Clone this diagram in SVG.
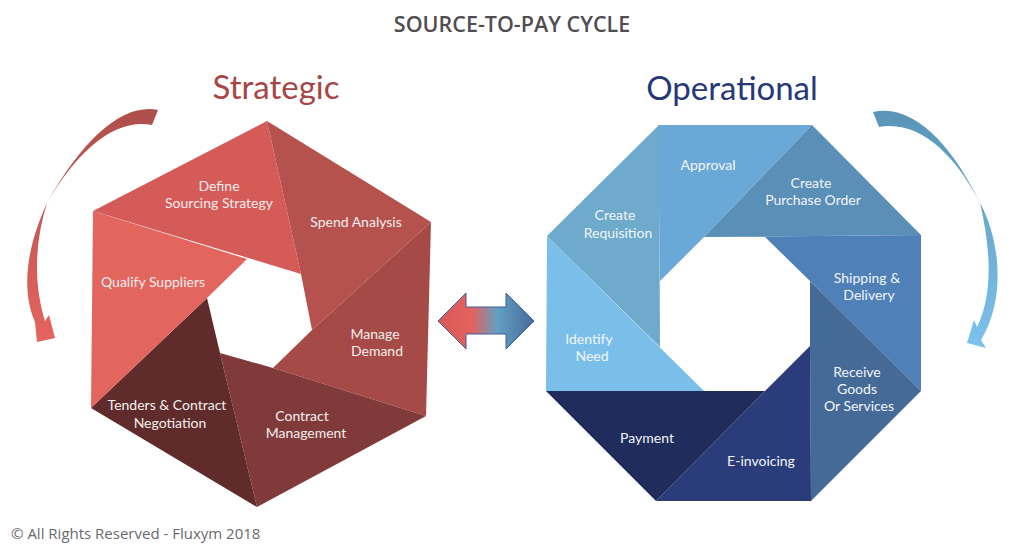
<svg xmlns="http://www.w3.org/2000/svg" width="1024" height="554" viewBox="0 0 1024 554">
<style>
text{font-family:"Lato","Liberation Sans",sans-serif}
.l{font-size:14px;fill:#f6eeee;text-anchor:middle}
.b{fill:#f2f6fa}
</style>
<defs>
<linearGradient id="ag" x1="0" y1="0" x2="1" y2="0"><stop offset="0" stop-color="#d9595a"/><stop offset=".35" stop-color="#e4625c"/><stop offset=".62" stop-color="#62a0c2"/><stop offset="1" stop-color="#466a9c"/></linearGradient>
<linearGradient id="lg" gradientUnits="userSpaceOnUse" x1="0" y1="108" x2="0" y2="342"><stop offset="0" stop-color="#ad4f4b"/><stop offset="1" stop-color="#e5645e"/></linearGradient>
<linearGradient id="rg" gradientUnits="userSpaceOnUse" x1="0" y1="112" x2="0" y2="348"><stop offset="0" stop-color="#5a95b8"/><stop offset="1" stop-color="#7cc2ec"/></linearGradient>
</defs>
<text x="512" y="32" text-anchor="middle" style="font-family:'Open Sans','Liberation Sans',sans-serif;font-size:21.5px;font-weight:600;fill:#514c52">SOURCE-TO-PAY CYCLE</text>
<text x="276" y="99" text-anchor="middle" style="font-size:33px;fill:#a84546">Strategic</text>
<text x="732" y="100" text-anchor="middle" style="font-size:33px;fill:#25387a">Operational</text>
<g id="define"><polygon points="93,211 267,121 301,274" fill="#d45b58"/><text class="l" x="219" y="191">Define</text><text class="l" x="219" y="208">Sourcing Strategy</text></g>
<g id="spend"><polygon points="267,121 431,222 312,330 301,274" fill="#b5524e"/><text class="l" x="356" y="227">Spend Analysis</text></g>
<g id="manage"><polygon points="431,222 426,416 273,368 312,330" fill="#a54a46"/><text class="l" x="375" y="339">Manage</text><text class="l" x="377" y="356">Demand</text></g>
<g id="contract"><polygon points="426,416 257,507 220,353 273,368" fill="#813a3a"/><text class="l" x="302" y="421">Contract</text><text class="l" x="306" y="438">Management</text></g>
<g id="tenders"><polygon points="257,507 91,408 207,298 220,353" fill="#5f2c2b"/><text class="l" x="167" y="410">Tenders &amp; Contract</text><text class="l" x="170" y="428">Negotiation</text></g>
<g id="qualify"><polygon points="91,408 93,211 247,259 207,298" fill="#e2655e"/><text class="l" x="153" y="287">Qualify Suppliers</text></g>
<g id="requisition"><polygon points="547,236 659,125 660,347" fill="#6daacb"/><text class="l b" x="615" y="220">Create</text><text class="l b" x="618" y="238">Requisition</text></g>
<g id="approval"><polygon points="658,125 812,125 704,237 660,281" fill="#6aa8d8"/><text class="l b" x="708" y="170">Approval</text></g>
<g id="purchase"><polygon points="812,125 921,235 704,237" fill="#5a8fb8"/><text class="l b" x="811" y="188">Create</text><text class="l b" x="813" y="205">Purchase Order</text></g>
<g id="shipping"><polygon points="704,237 921,235 921,391 810,281 765,237" fill="#5080b8"/><text class="l b" x="867" y="283">Shipping &amp;</text><text class="l b" x="869" y="300">Delivery</text></g>
<g id="receive"><polygon points="810,281 921,391 811,501 810,346" fill="#456a98"/><text class="l b" x="857" y="377">Receive</text><text class="l b" x="857" y="394">Goods</text><text class="l b" x="859" y="411">Or Services</text></g>
<g id="einvoicing"><polygon points="810,346 811,501 656,501 765,391" fill="#2a3d7a"/><text class="l b" x="761" y="466">E-invoicing</text></g>
<g id="payment"><polygon points="546,391 765,391 656,501" fill="#202d5c"/><text class="l b" x="647" y="443">Payment</text></g>
<g id="identify"><polygon points="547,236 704,391 546,391" fill="#7abfea"/><text class="l b" x="589" y="344">Identify</text><text class="l b" x="592" y="361">Need</text></g>
<g id="connectors">
<path d="M158,110 C125,103 85,135 47,203 C30,240 19,285 35,322 L37,342 L55,338 L49,315 L45,321 C34,285 34,245 47,203 C78,150 115,118 152,125 Z" fill="url(#lg)"/>
<path d="M873,112 C915,102 955,150 980,203 C998,235 1008,295 981,340 L986,348 L967,343 L974,320 L977,327 C993,295 991,250 980,203 C955,155 920,120 879,127 Z" fill="url(#rg)"/>
<polygon points="438,321 466,293 466,307 506,307 506,293 534,321 506,349 506,334 466,334 466,349" fill="url(#ag)" stroke="#3e5c98" stroke-width="1"/>
</g>
<text x="11" y="539" style="font-family:'Open Sans','Liberation Sans',sans-serif;font-size:15px;fill:#6a6a6e">© All Rights Reserved - Fluxym 2018</text>
</svg>
